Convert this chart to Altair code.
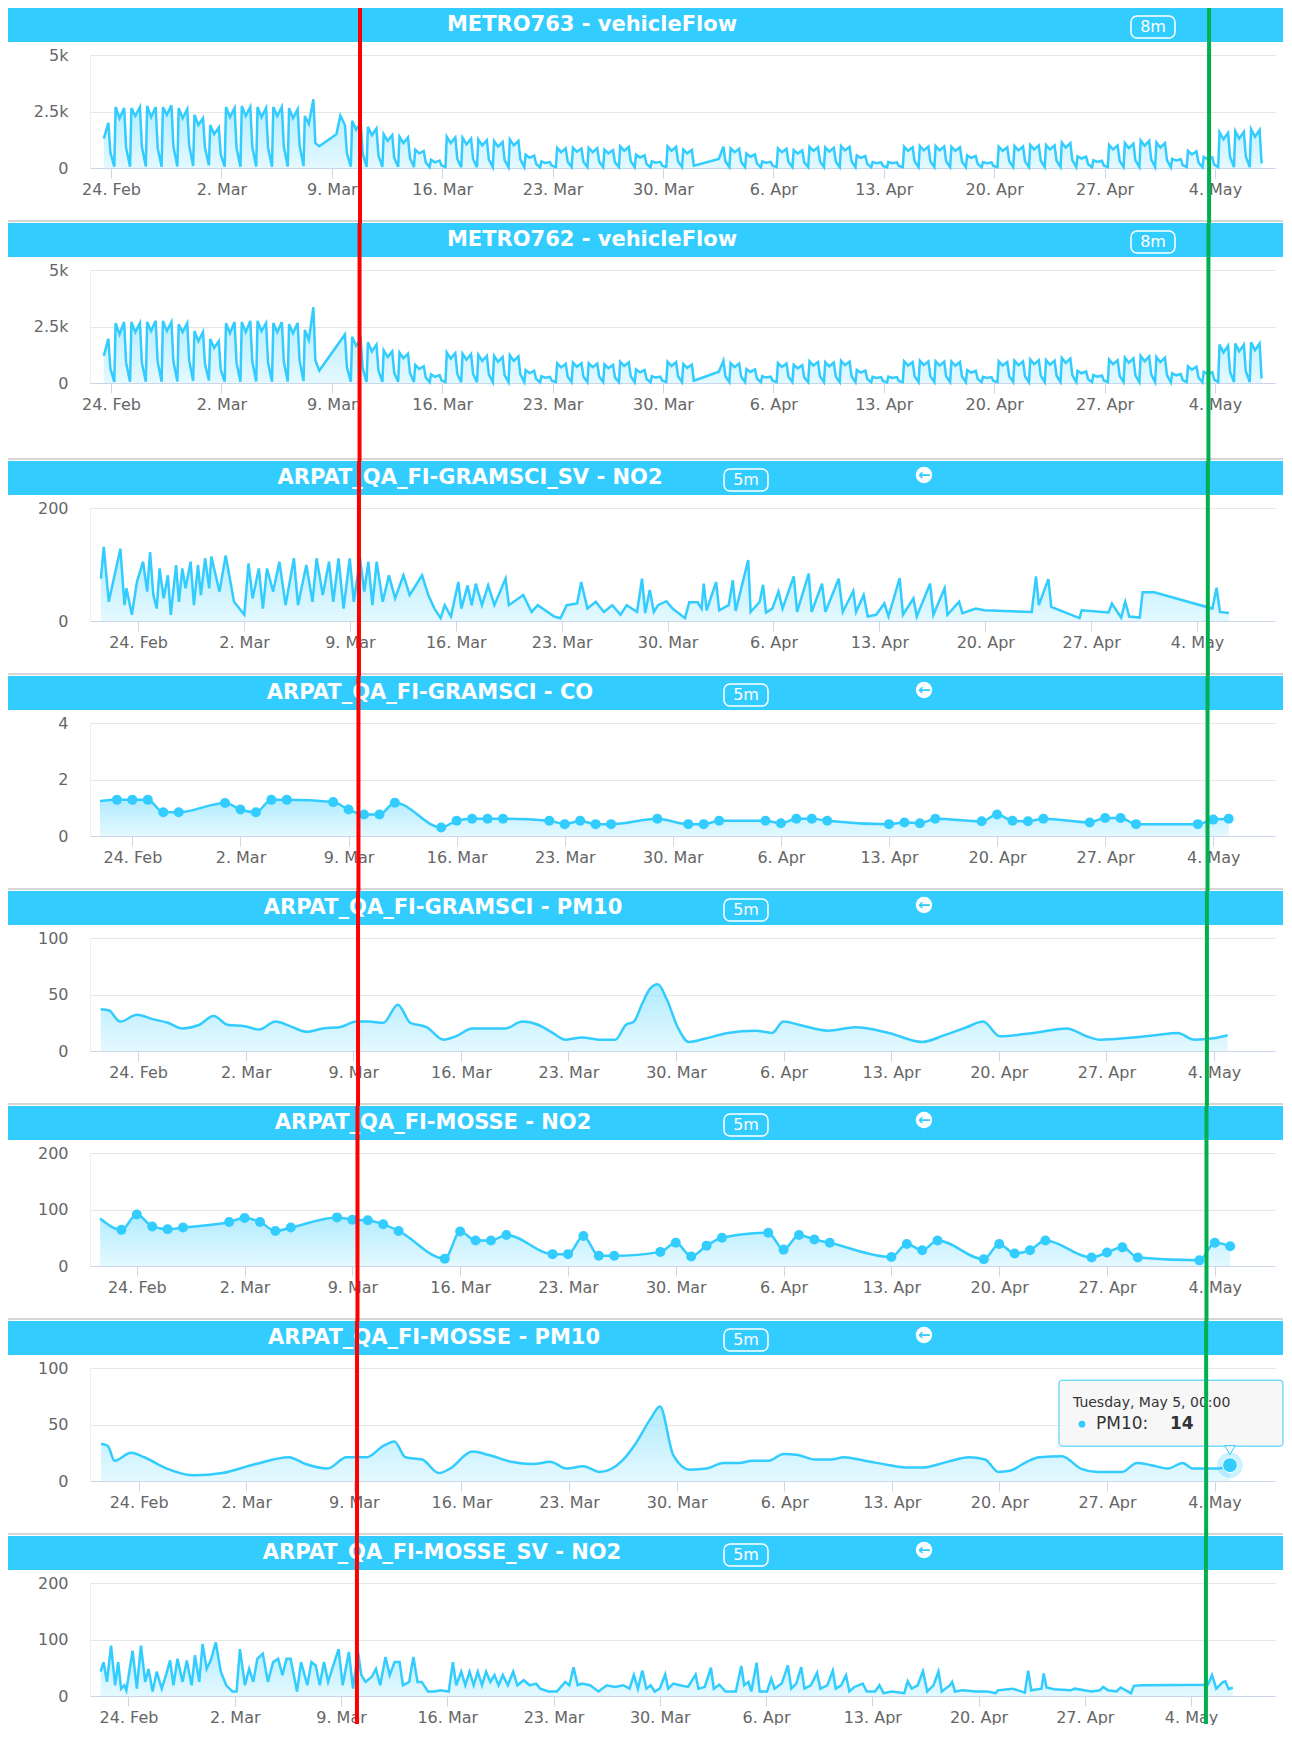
import altair as alt
import pandas as pd

N = None
BASE = pd.Timestamp("2020-02-24 00:00:00")

# ---------------- data ----------------
# METRO vehicle flow: one row per day (first row = 23 Feb), values at these hours
METRO_HOURS = [5, 7, 13, 20, 23]
METRO_FIRST_DAY = -1
metro763 = [
    [N, N, 1300, 2000, 700],
    [60, 2700, 2200, 2650, 900], [60, 2650, 2300, 2700, 950], [70, 2750, 2250, 2700, 900],
    [60, 2700, 2350, 2770, 950], [70, 2650, 2200, 2600, 1000], [90, 2350, 1900, 2200, 900],
    [120, 1900, 1500, 1800, 600],
    [60, 2700, 2250, 2650, 900], [60, 2740, 2300, 2700, 950], [70, 2700, 2250, 2650, 900],
    [60, 2700, 2300, 2700, 950], [70, 2650, 2200, 2600, 1000], [90, 2300, 1950, 3040, 1100],
    [960, N, N, N, N],
    [N, 1490, 2320, 1900, 650], [60, 2090, 1700, 2000, 650], [50, 1820, 1450, 1750, 550],
    [50, 1490, 1200, 1450, 450], [50, 1390, 1100, 1350, 450], [40, 810, 650, 750, 250],
    [40, 360, 250, 330, 120],
    [40, 1390, 1100, 1350, 400], [40, 1340, 1050, 1300, 400], [40, 1265, 1000, 1230, 380],
    [40, 1190, 950, 1150, 350], [40, 1265, 1000, 1200, 380], [40, 590, 450, 550, 180],
    [30, 290, 220, 260, 100],
    [40, 890, 700, 870, 280], [40, 890, 720, 860, 280], [40, 890, 700, 880, 280],
    [40, 810, 650, 790, 250], [40, 960, 760, 930, 300], [40, 590, 460, 560, 180],
    [30, 290, 230, 270, 100],
    [40, 960, 760, 940, 300], [40, 820, 650, 800, 100], [N, N, N, N, N],
    [N, N, 400, 945, 300], [40, 870, 700, 850, 280], [40, 640, 500, 600, 200],
    [30, 290, 230, 270, 100],
    [40, 870, 700, 850, 280], [40, 790, 640, 780, 250], [40, 945, 760, 920, 300],
    [40, 910, 730, 890, 290], [40, 970, 780, 940, 300], [40, 560, 450, 530, 180],
    [30, 260, 210, 250, 90],
    [30, 260, 210, 250, 90], [40, 945, 760, 920, 300], [40, 970, 780, 950, 300],
    [40, 970, 780, 950, 300], [40, 945, 760, 920, 300], [40, 560, 450, 530, 180],
    [30, 260, 210, 250, 90],
    [40, 945, 760, 920, 300], [40, 970, 780, 950, 300], [40, 1020, 820, 1000, 320],
    [40, 1020, 820, 1000, 320], [40, 1130, 900, 1100, 350], [40, 520, 420, 500, 170],
    [30, 340, 270, 320, 110],
    [40, 1020, 820, 1000, 320], [40, 1100, 880, 1080, 340], [40, 1220, 980, 1200, 380],
    [40, 1130, 900, 1100, 350], [30, 410, 330, 390, 130], [40, 760, 600, 740, 240],
    [30, 490, 390, 470, 150],
    [40, 1585, 1270, 1550, 500], [40, 1630, 1300, 1600, 520], [40, 1720, 1380, 1680, 200],
]
metro762 = [
    [N, N, 1200, 1950, 650],
    [50, 2650, 2150, 2700, 900], [60, 2700, 2250, 2650, 900], [60, 2700, 2300, 2750, 950],
    [60, 2750, 2300, 2700, 950], [70, 2600, 2250, 2650, 1000], [90, 2300, 1850, 2250, 850],
    [110, 1950, 1550, 1850, 600],
    [60, 2650, 2200, 2700, 900], [60, 2700, 2250, 2750, 950], [70, 2750, 2300, 2650, 900],
    [60, 2650, 2250, 2700, 950], [70, 2600, 2200, 2650, 1000], [90, 2350, 1900, 3350, 1000],
    [550, N, N, N, N],
    [N, N, N, 2150, 700], [60, 2050, 1650, 1950, 650], [50, 1800, 1400, 1700, 550],
    [50, 1450, 1150, 1400, 450], [50, 1350, 1100, 1300, 450], [40, 800, 620, 740, 250],
    [40, 380, 270, 350, 120],
    [40, 1350, 1080, 1320, 400], [40, 1300, 1030, 1280, 400], [40, 1250, 980, 1200, 380],
    [40, 1200, 940, 1150, 350], [40, 1230, 980, 1180, 380], [40, 570, 440, 540, 180],
    [30, 300, 230, 270, 100],
    [40, 870, 690, 850, 280], [40, 900, 720, 870, 280], [40, 870, 700, 860, 280],
    [40, 830, 660, 800, 250], [40, 940, 750, 910, 300], [40, 600, 470, 570, 180],
    [30, 300, 240, 280, 100],
    [40, 940, 750, 920, 300], [40, 840, 670, 810, 100], [N, N, N, N, N],
    [N, N, 500, 980, 300], [40, 880, 700, 860, 280], [40, 620, 490, 600, 200],
    [30, 300, 240, 280, 100],
    [40, 880, 710, 860, 280], [40, 800, 650, 790, 250], [40, 960, 770, 930, 300],
    [40, 920, 740, 900, 290], [40, 980, 790, 950, 300], [40, 580, 460, 550, 180],
    [30, 270, 220, 260, 90],
    [30, 280, 220, 260, 90], [40, 960, 770, 930, 300], [40, 980, 790, 960, 300],
    [40, 960, 770, 940, 300], [40, 950, 760, 930, 300], [40, 570, 460, 540, 180],
    [30, 270, 220, 260, 90],
    [40, 960, 770, 930, 300], [40, 990, 790, 960, 300], [40, 1040, 830, 1010, 320],
    [40, 1010, 810, 990, 320], [40, 1110, 890, 1080, 350], [40, 540, 430, 510, 170],
    [30, 350, 280, 330, 110],
    [40, 1040, 830, 1010, 320], [40, 1120, 900, 1090, 340], [40, 1200, 960, 1180, 380],
    [40, 1150, 920, 1120, 350], [30, 430, 340, 400, 130], [40, 740, 590, 720, 240],
    [30, 500, 400, 480, 150],
    [40, 1700, 1350, 1650, 500], [40, 1750, 1400, 1700, 520], [40, 1800, 1450, 1750, 200],
]

# days are offsets from 24 Feb 2020 00:00
gramsci_sv_no2_days = [
    -2.46, -2.27, -1.94, -1.17, -0.90, -0.77, -0.41, -0.08, 0.33, 0.60, 0.79, 1.01, 1.23, 1.42, 1.69,
    1.97, 2.16, 2.51, 2.70, 2.92, 3.14, 3.47, 3.69, 3.96, 4.15, 4.43, 4.70, 4.84, 5.38, 5.79,
    6.34, 7.02, 7.30, 7.57, 7.98, 8.25, 8.52, 8.93, 9.34, 9.75, 10.30, 10.57, 11.12, 11.53, 11.80,
    12.21, 12.62, 12.90, 13.25, 13.58, 13.99, 14.26, 14.67, 14.95, 15.22, 15.49, 15.77, 16.17, 16.58, 16.99,
    17.54, 17.95, 18.77, 19.18, 19.59, 20.00, 20.27, 20.68, 21.17, 21.37, 21.78, 22.05, 22.32, 22.73, 23.14,
    23.55, 24.29, 24.51, 25.46, 26.01, 26.42, 27.51, 27.92, 28.33, 29.02, 29.29, 29.70, 30.25, 30.79, 31.34,
    31.89, 32.30, 32.98, 33.31, 33.52,
    33.82, 34.09, 34.37, 34.92, 35.33, 36.15, 36.43, 36.98, 37.25, 37.39, 37.58, 38.21, 38.41, 39.04, 39.31,
    39.50, 40.33, 40.49, 41.09, 41.31, 41.51, 41.92, 42.33, 42.60, 43.34, 43.56, 44.33, 44.52, 45.21, 45.43,
    46.31, 46.58, 47.27, 47.46, 47.96, 48.23, 48.78, 49.33, 49.60, 50.34, 50.56, 51.25, 51.47, 52.35, 52.57,
    53.31, 53.50, 54.27, 54.49, 55.37, 55.92, 59.07, 59.35, 59.54, 60.17, 60.36, 62.23, 62.37, 64.15, 64.37,
    64.98, 65.25, 65.52, 66.21, 66.40, 67.17, 71.01, 71.29, 71.51, 72.11,
]
gramsci_sv_no2_vals = [
    75, 131, 34, 128, 28, 58, 11, 69, 105, 52, 122, 46, 22, 93, 40,
    81, 11, 99, 34, 93, 58, 105, 28, 99, 46, 111, 58, 114, 52, 116,
    34, 11, 102, 40, 93, 22, 93, 52, 105, 28, 111, 28, 99, 34, 111,
    46, 105, 34, 111, 22, 111, 34, 111, 52, 105, 28, 105, 34, 81, 40,
    81, 46, 81, 46, 22, 5, 28, 8, 69, 22, 63, 28, 66, 28, 63,
    28, 75, 28, 46, 16, 28, 8, 5, 28, 31, 69, 22, 34, 16, 28,
    11, 28, 16, 75, 14,
    55, 16, 28, 35, 22, 5, 33, 33, 22, 66, 19, 69, 19, 28, 72,
    18, 108, 16, 34, 64, 15, 22, 52, 22, 79, 16, 84, 16, 66, 16,
    75, 16, 53, 16, 46, 8, 11, 31, 8, 76, 11, 40, 8, 66, 11,
    58, 11, 34, 14, 22, 19, 16, 79, 28, 74, 25, 5, 19, 15, 31,
    6, 34, 8, 6, 51, 51, 22, 59, 16, 14,
]

gramsci_co_days = [-2.1, -1, 0, 1, 2, 3, 6, 7, 8, 9, 10, 13, 14, 15, 16, 17, 20, 21, 22, 23, 24,
                   27, 28, 29, 30, 31, 34, 36, 37, 38, 41, 42, 43, 44, 45, 49, 50, 51, 52,
                   55, 56, 57, 58, 59, 62, 63, 64, 65, 69, 70, 71]
gramsci_co_vals = [1.24, 1.28, 1.28, 1.28, 0.84, 0.84, 1.17, 0.94, 0.84, 1.28, 1.28, 1.20, 0.94, 0.76,
                   0.76, 1.18, 0.30, 0.54, 0.61, 0.61, 0.61, 0.54, 0.42, 0.54, 0.42, 0.42, 0.61, 0.42,
                   0.42, 0.54, 0.54, 0.45, 0.61, 0.61, 0.54, 0.42, 0.48, 0.45, 0.61, 0.52, 0.76, 0.54,
                   0.52, 0.61, 0.48, 0.64, 0.64, 0.42, 0.42, 0.58, 0.61]

gramsci_pm10_days = [-2.43, -1.91, -1.16, -0.08, 1.0, 1.94, 2.88, 3.96, 4.91, 5.85, 6.93, 7.87, 8.95,
                     9.89, 10.97, 12.05, 13.13, 14.20, 15.01, 15.96, 16.90, 17.71, 18.79, 19.87, 20.67,
                     21.75, 22.83, 23.91, 24.99, 26.06, 26.87, 27.82, 28.89, 29.97, 31.05, 31.73, 32.26,
                     32.80, 33.30, 33.81, 34.39, 35.11, 35.83, 36.92, 38.36, 40.17, 41.25, 41.98, 43.06,
                     44.87, 46.68, 48.84, 51.01, 52.46, 53.90, 54.98, 56.07, 58.24, 60.41, 61.71, 62.58,
                     64.74, 66.19, 67.64, 68.72, 69.81, 70.89]
gramsci_pm10_vals = [37, 36, 26, 32, 28, 25, 20, 23, 31, 23, 22, 19, 26, 22, 17, 20, 21, 26, 26, 25,
                     41, 25, 21, 10, 13, 20, 20, 20, 26, 23, 17, 10, 12, 10, 10, 23, 26, 42, 55, 59,
                     46, 21, 8, 11, 16, 18, 16, 26, 23, 18, 21, 16, 8, 14, 21, 26, 13, 16, 20, 13,
                     10, 12, 14, 16, 10, 11, 14]

mosse_no2_days = [-2.38, -1, 0, 1, 2, 3, 6, 7, 8, 9, 10, 13, 14, 15, 16, 17, 20, 21, 22, 23, 24,
                  27, 28, 29, 30, 31, 34, 35, 36, 37, 38, 41, 42, 43, 44, 45, 49, 50, 51, 52,
                  55, 56, 57, 58, 59, 62, 63, 64, 65, 69, 70, 71]
mosse_no2_vals = [84, 64, 91, 70, 65, 68, 78, 85, 78, 62, 68, 86, 82, 81, 74, 62, 13, 61, 45, 45, 55,
                  21, 21, 53, 18, 18, 25, 41, 17, 36, 50, 59, 29, 55, 47, 41, 16, 39, 28, 45,
                  12, 39, 22, 28, 45, 15, 24, 33, 15, 10, 41, 35]

mosse_pm10_days = [-2.44, -2.0, -1.57, -0.49, 0.38, 1.83, 3.63, 5.44, 7.61, 9.78, 10.86, 12.30, 13.53,
                   14.83, 15.92, 16.64, 17.36, 18.45, 19.53, 20.26, 21.71, 22.79, 24.24, 25.68, 26.77,
                   27.85, 28.93, 30.01, 31.46, 32.33, 33.3, 33.92, 34.78, 35.87, 36.95, 38.03, 39.11,
                   39.92, 41.00, 41.95, 42.90, 43.98, 45.06, 45.87, 47.23, 48.85, 49.93, 51.01, 52.10,
                   53.18, 53.99, 55.07, 55.94, 56.69, 57.78, 58.59, 60.07, 61.29, 62.37, 63.99, 64.94,
                   65.89, 66.97, 67.92, 68.59, 69.41, 70.22, 71.0]
mosse_pm10_vals = [33, 31, 18, 25, 21, 11, 5, 7, 15, 21, 15, 11, 21, 21, 31, 35, 21, 19, 7, 11,
                   26, 23, 17, 15, 17, 11, 13, 8, 18, 33, 55, 66, 23, 10, 11, 16, 16, 18, 18, 24,
                   23, 19, 19, 21, 18, 14, 12, 12, 15, 19, 21, 19, 8, 9, 17, 21, 22, 11, 8, 8,
                   16, 14, 11, 16, 11, 11, 11, 14]

mosse_sv_no2_days = [
    -1.84, -1.64, -1.42, -1.15, -0.88, -0.68, -0.49, -0.27, -0.14, 0.27, 0.55, 0.82, 1.10, 1.32, 1.59,
    1.86, 2.19, 2.47, 2.74, 2.96, 3.23, 3.56, 3.84, 4.16, 4.38, 4.66, 4.88, 5.15, 5.42, 5.75,
    6.08, 6.44, 6.85, 7.12, 7.34, 7.67, 7.95, 8.22, 8.49, 8.85, 9.18, 9.53, 9.86, 10.14, 10.41,
    10.68, 11.10, 11.37, 11.78, 12.05, 12.33, 12.60, 12.88, 13.15, 13.42, 13.84, 14.11, 14.52, 14.79, 15.12,
    15.34, 15.62, 16.03, 16.30, 16.58, 16.93, 17.21, 17.53, 17.86, 18.08, 18.49, 18.77, 19.04, 19.32, 19.73,
    20.14, 20.55, 21.10, 21.37, 21.59, 21.92, 22.19, 22.47, 22.74, 23.01, 23.29, 23.56, 23.84, 24.11, 24.38,
    24.66, 24.99, 25.34, 25.62, 26.03, 26.44, 26.85, 27.12, 27.67, 28.22, 28.77, 29.04, 29.32, 29.59, 29.86,
    30.41, 30.96, 31.51, 32.05, 32.60, 33.01, 33.29, 33.56,
    33.85, 34.12, 34.40, 34.67, 35.0, 35.36, 35.55, 35.90, 36.32, 36.86, 37.36, 37.55, 37.96, 38.37, 38.56,
    38.92, 39.33, 40.01, 40.37, 40.56, 40.84, 41.03, 41.38, 41.58, 42.07, 42.34, 42.56, 43.03, 43.44, 43.66,
    43.99, 44.32, 44.53, 44.95, 45.36, 45.58, 46.04, 46.40, 46.59, 46.95, 47.27, 47.49, 47.82, 48.37, 48.64,
    49.19, 49.47, 49.74, 50.29, 51.11, 51.33, 51.60, 51.99, 52.34, 52.62, 53.03, 53.36, 53.58, 54.12, 54.26,
    54.45, 54.95, 55.49, 55.77, 56.59, 57.14, 57.27, 58.23, 59.05, 59.27, 59.47, 60.15, 60.29, 60.48, 60.97,
    62.07, 62.34, 63.44, 63.99, 64.21, 64.53, 65.08, 65.36, 65.77, 66.04, 66.23, 66.73, 71.11, 71.38, 71.66,
    72.07, 72.26, 72.48, 72.75,
]
mosse_sv_no2_vals = [
    43, 60, 25, 89, 19, 60, 13, 19, 10, 80, 13, 89, 25, 48, 8,
    43, 13, 37, 63, 19, 66, 25, 63, 19, 72, 25, 92, 48, 63, 95,
    43, 19, 8, 8, 83, 19, 48, 25, 66, 75, 25, 60, 66, 37, 66,
    66, 8, 60, 19, 60, 54, 19, 60, 25, 48, 83, 19, 78, 13, 78,
    37, 25, 34, 48, 19, 69, 37, 60, 60, 19, 25, 69, 25, 25, 8,
    8, 10, 8, 60, 19, 43, 19, 43, 19, 43, 19, 43, 25, 37, 19,
    37, 19, 43, 19, 28, 19, 22, 13, 8, 8, 25, 19, 51, 19, 22,
    19, 8, 19, 16, 19, 13, 37, 13,
    45, 13, 19, 8, 13, 38, 13, 22, 19, 16, 38, 13, 16, 50, 13,
    20, 8, 8, 53, 19, 25, 8, 59, 8, 8, 31, 13, 22, 54, 13,
    22, 51, 13, 19, 41, 13, 19, 45, 13, 19, 37, 8, 16, 22, 8,
    8, 19, 5, 8, 5, 26, 13, 19, 44, 8, 19, 43, 8, 19, 25,
    8, 10, 9, 8, 8, 5, 10, 13, 6, 45, 10, 13, 40, 15, 12,
    10, 13, 8, 10, 16, 10, 8, 15, 9, 5, 18, 19, 20, 37, 13,
    24, 26, 12, 15,
]

# hovered point (tooltip) on MOSSE PM10
tip_day = 71
tip_value = 14

# annotation lines, read per panel (day offsets)
red_days = [15.79, 15.76, 14.60, 14.64, 14.31, 14.33, 14.21, 15.05]
green_days = [69.63, 69.59, 70.71, 69.63, 69.54, 69.46, 69.45, 70.98]
# visible x range of each panel (day offsets)
x_ranges = [(-1.332, 73.81), (-1.332, 73.81), (-3.179, 75.15), (-2.746, 74.00),
            (-3.129, 73.97), (-3.039, 73.91), (-3.162, 73.93), (-2.536, 75.53)]

# ---------------- helpers ----------------
FONT = "DejaVu Sans"
BLUE = "#33ccff"
W, H = 1185, 113
LEFT, RIGHT, TOP = 82, 8, 47
ONE = pd.DataFrame({"k": [0]})


def when(d):
    return BASE + pd.Timedelta(days=d)


def dt(d):
    t = when(d)
    return alt.DateTime(year=t.year, month=t.month, date=t.day,
                        hours=t.hour, minutes=t.minute, seconds=t.second)


XTICKS = [dt(7 * k) for k in range(11)]
GRAD = alt.Gradient(gradient="linear",
                    stops=[alt.GradientStop(color="#8fe3ff", offset=0),
                           alt.GradientStop(color="#d9f6ff", offset=1)],
                    x1=1, x2=1, y1=0, y2=1)


def metro_frame(rows):
    t, v = [], []
    for i, row in enumerate(rows):
        for h, val in zip(METRO_HOURS, row):
            if val is not None:
                t.append(BASE + pd.Timedelta(days=METRO_FIRST_DAY + i, hours=h))
                v.append(val)
    return pd.DataFrame({"t": t, "v": v})


def frame(days, vals):
    return pd.DataFrame({"t": [when(d) for d in days], "v": vals})


def full_rect(y0, y1, **kw):
    return alt.Chart(ONE).mark_rect(**kw).encode(
        x=alt.value(-LEFT), x2=alt.value(W + RIGHT), y=alt.value(y0), y2=alt.value(y1))


def panel(i, p):
    bottom = p["bottom"]
    layers = [full_rect(-TOP, bottom, opacity=0)]
    if p.get("sep", True):
        layers.append(full_rect(bottom - 3, bottom - 1, color="#d6d6d6"))
    layers.append(full_rect(-TOP, -13, color=BLUE))
    layers.append(alt.Chart(ONE).mark_text(
        text=p["title"], font=FONT, fontSize=21, fontWeight="bold", color="white",
        align="center", baseline="middle").encode(x=alt.value(p["tx"]), y=alt.value(-30)))
    bx = p["bx"]
    layers.append(alt.Chart(ONE).mark_rect(
        fillOpacity=0, stroke="white", strokeWidth=1.5, cornerRadius=6).encode(
        x=alt.value(bx - 22), x2=alt.value(bx + 22), y=alt.value(-39), y2=alt.value(-17)))
    layers.append(alt.Chart(ONE).mark_text(
        text=p["badge"], font=FONT, fontSize=16, color="white",
        align="center", baseline="middle").encode(x=alt.value(bx), y=alt.value(-28)))
    if "ax" in p:
        layers.append(alt.Chart(ONE).mark_circle(size=270, color="white", opacity=1).encode(
            x=alt.value(p["ax"]), y=alt.value(-33)))
        layers.append(alt.Chart(ONE).mark_text(
            text="←", font=FONT, fontSize=15, fontWeight="bold", color=BLUE,
            align="center", baseline="middle").encode(x=alt.value(p["ax"]), y=alt.value(-33)))

    d0, d1 = x_ranges[i]
    xaxis = alt.Axis(values=XTICKS, format="%-d. %b", title=None, grid=False,
                     labelFont=FONT, labelFontSize=16, labelColor="#666666", labelPadding=3,
                     tickColor="#ccd6eb", tickSize=10, domainColor="#ccd6eb",
                     labelFlush=False, labelOverlap=False, labelBound=False)
    yargs = dict(values=p["yticks"], title=None, grid=True, gridColor="#e6e6e6", ticks=False,
                 domainColor="#eeeeee", labelFont=FONT, labelFontSize=16,
                 labelColor="#666666", labelPadding=22)
    if "lexpr" in p:
        yargs["labelExpr"] = p["lexpr"]
    X = alt.X("t:T", scale=alt.Scale(domain=[dt(d0), dt(d1)]), axis=xaxis)
    Y = alt.Y("v:Q", scale=alt.Scale(domain=[0, p["ymax"]], nice=False, zero=True),
              axis=alt.Axis(**yargs))

    df = p["df"]
    layers.append(alt.Chart(df).mark_area(
        interpolate=p["interp"], line={"color": BLUE, "strokeWidth": 2.5}, color=GRAD
    ).encode(x=X, y=Y))
    if p.get("dots"):
        layers.append(alt.Chart(df.iloc[1:]).mark_circle(size=100, color=BLUE, opacity=1)
                      .encode(x=X, y=Y))
    if p.get("tip"):
        tdf = pd.DataFrame({"t": [when(tip_day)], "v": [tip_value]})
        layers.append(alt.Chart(tdf).mark_circle(size=650, color=BLUE, opacity=0.25).encode(x=X, y=Y))
        layers.append(alt.Chart(tdf).mark_circle(size=220, color=BLUE, opacity=1,
                                                 stroke="white", strokeWidth=1).encode(x=X, y=Y))
        layers.append(alt.Chart(tdf).mark_rect(
            fill="#f7f7f7", fillOpacity=0.95, stroke=BLUE, strokeWidth=1, cornerRadius=3,
            xOffset=-171, x2Offset=53, yOffset=-85, y2Offset=-19).encode(
            x=X, x2="t:T", y=Y, y2="v:Q"))
        layers.append(alt.Chart(tdf).mark_point(
            shape="triangle-down", filled=True, fill="#f7f7f7", stroke=BLUE, strokeWidth=1,
            size=110, opacity=1, yOffset=-15).encode(x=X, y=Y))
        layers.append(alt.Chart(tdf).mark_text(
            text="Tuesday, May 5, 00:00", font=FONT, fontSize=14, color="#333333",
            align="left", baseline="middle", dx=-157, dy=-62).encode(x=X, y=Y))
        layers.append(alt.Chart(tdf).mark_circle(size=45, color=BLUE, opacity=1,
                                                 xOffset=-148, yOffset=-41).encode(x=X, y=Y))
        layers.append(alt.Chart(tdf).mark_text(
            text="PM10: ", font=FONT, fontSize=17, color="#333333",
            align="left", baseline="middle", dx=-134, dy=-41).encode(x=X, y=Y))
        layers.append(alt.Chart(tdf).mark_text(
            text=str(tip_value), font=FONT, fontSize=17, fontWeight="bold", color="#333333",
            align="left", baseline="middle", dx=-60, dy=-41).encode(x=X, y=Y))

    for day, col in ((red_days[i], "#ff0000"), (green_days[i], "#00b050")):
        ldf = pd.DataFrame({"t": [when(day)]})
        layers.append(alt.Chart(ldf).mark_rect(width=4, color=col, opacity=1).encode(
            x=X, y=alt.value(-TOP), y2=alt.value(bottom)))

    return alt.layer(*layers).properties(width=W, height=H)


K_EXPR = "datum.value == 0 ? '0' : (datum.value / 1000) + 'k'"
PANELS = [
    dict(title="METRO763 - vehicleFlow", tx=502, badge="8m", bx=1063,
         df=metro_frame(metro763), ymax=5000, yticks=[0, 2500, 5000], lexpr=K_EXPR,
         interp="linear", bottom=168),
    dict(title="METRO762 - vehicleFlow", tx=502, badge="8m", bx=1063,
         df=metro_frame(metro762), ymax=5000, yticks=[0, 2500, 5000], lexpr=K_EXPR,
         interp="linear", bottom=191),
    dict(title="ARPAT_QA_FI-GRAMSCI_SV - NO2", tx=380, badge="5m", bx=656, ax=834,
         df=frame(gramsci_sv_no2_days, gramsci_sv_no2_vals), ymax=200, yticks=[0, 200],
         interp="linear", bottom=168),
    dict(title="ARPAT_QA_FI-GRAMSCI - CO", tx=340, badge="5m", bx=656, ax=834,
         df=frame(gramsci_co_days, gramsci_co_vals), ymax=4, yticks=[0, 2, 4],
         interp="monotone", dots=True, bottom=168),
    dict(title="ARPAT_QA_FI-GRAMSCI - PM10", tx=353, badge="5m", bx=656, ax=834,
         df=frame(gramsci_pm10_days, gramsci_pm10_vals), ymax=100, yticks=[0, 50, 100],
         interp="monotone", bottom=168),
    dict(title="ARPAT_QA_FI-MOSSE - NO2", tx=343, badge="5m", bx=656, ax=834,
         df=frame(mosse_no2_days, mosse_no2_vals), ymax=200, yticks=[0, 100, 200],
         interp="monotone", dots=True, bottom=168),
    dict(title="ARPAT_QA_FI-MOSSE - PM10", tx=344, badge="5m", bx=656, ax=834,
         df=frame(mosse_pm10_days, mosse_pm10_vals), ymax=100, yticks=[0, 50, 100],
         interp="monotone", tip=True, bottom=168),
    dict(title="ARPAT_QA_FI-MOSSE_SV - NO2", tx=352, badge="5m", bx=656, ax=834,
         df=frame(mosse_sv_no2_days, mosse_sv_no2_vals), ymax=200, yticks=[0, 100, 200],
         interp="linear", bottom=141, sep=False),
]

chart = alt.vconcat(*[panel(i, p) for i, p in enumerate(PANELS)], spacing=0, bounds="full") \
    .properties(padding=0) \
    .configure_view(strokeWidth=0)

chart.save("out.html", embed_options={"renderer": "svg", "actions": False})
